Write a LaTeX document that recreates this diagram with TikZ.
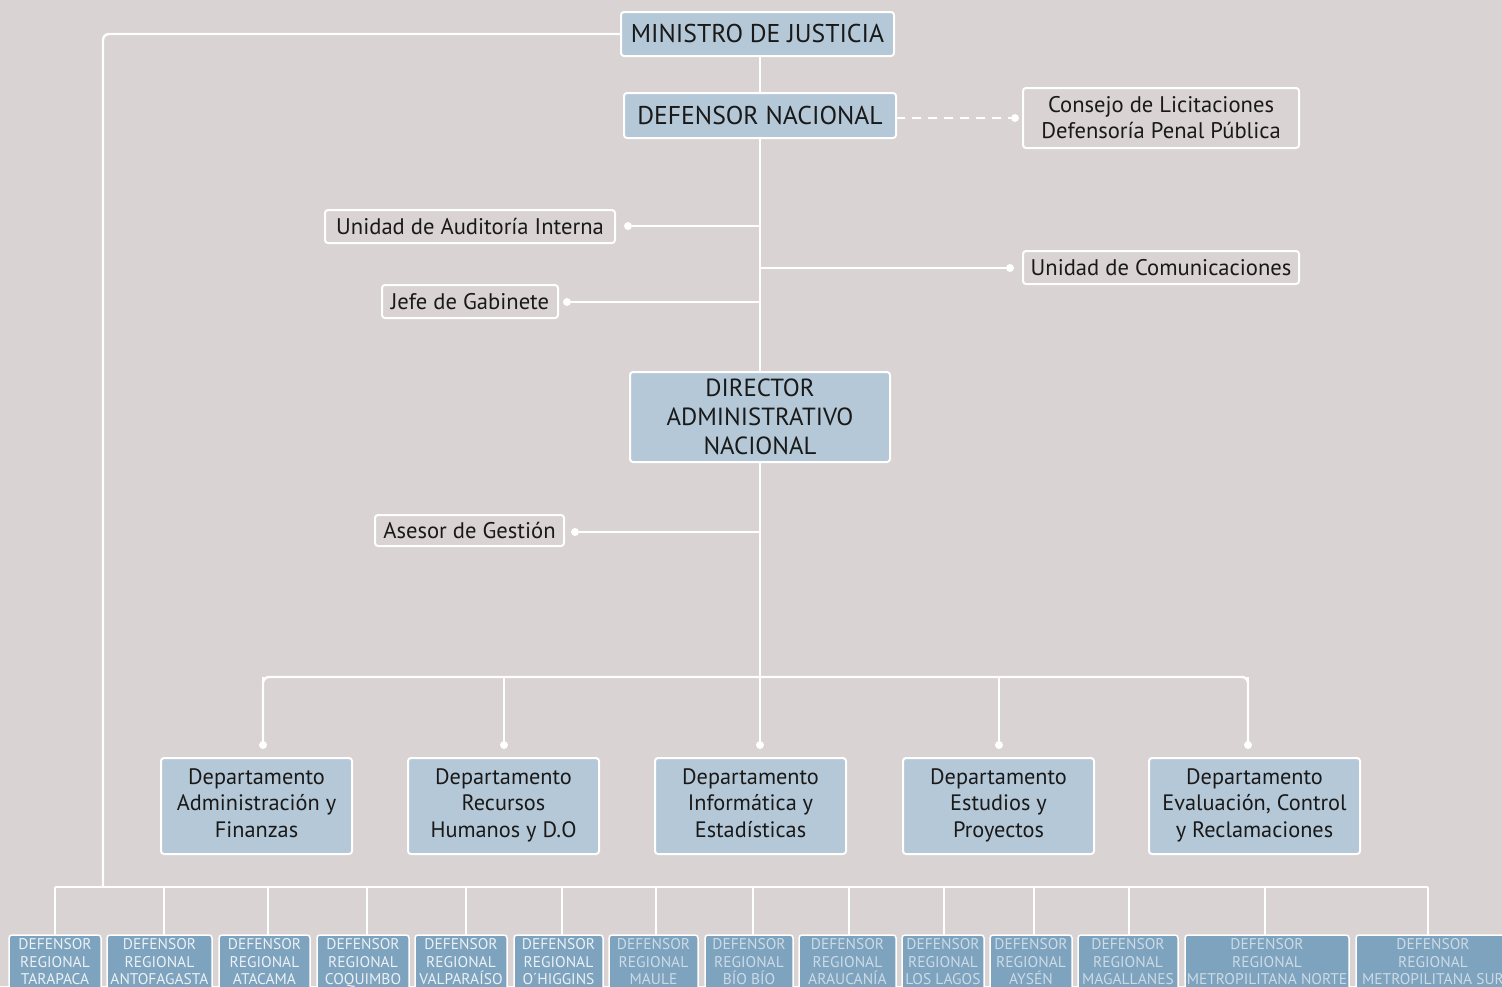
\documentclass[tikz,border=0pt]{standalone}
\usepackage{fontspec}
\setmainfont{PT Sans}
\newcommand\regstrut{\rule[-7pt]{0pt}{19pt}}
\newcommand\deptstrut{\rule[-6.4pt]{0pt}{28.4pt}}
\begin{document}
\begin{tikzpicture}[x=1pt,y=-1pt,
  every node/.style={inner sep=0pt,outer sep=0pt,align=center,text=txt},
  conn/.style={draw=white,line width=2.4pt},
  dotend/.style={fill=white,circle,minimum size=8pt},
  topbox/.style={draw=white,line width=2pt,fill=boxblue,rounded corners=3pt,font=\fontsize{25.7}{29}\selectfont},
  dirbox/.style={topbox,font=\fontsize{24.8}{29}\selectfont},
  sidebox/.style={draw=white,line width=2pt,rounded corners=3pt,font=\fontsize{22.6}{26}\selectfont},
  deptbox/.style={draw=white,line width=2pt,fill=boxblue,rounded corners=3pt,minimum width=191pt,minimum height=96pt,font=\fontsize{22.3}{26.5}\selectfont,execute at begin node=\deptstrut,execute at end node=\deptstrut},
  regbox/.style={draw=white,line width=1.5pt,fill=regblue,rounded corners=3pt,minimum height=60pt,font=\fontsize{15.5}{17.5}\selectfont,text=regtxt,execute at begin node=\regstrut,execute at end node=\regstrut},
  regboxb/.style={regbox,text=regtxtb}
]
\definecolor{bg}{RGB}{217,211,211}
\definecolor{boxblue}{RGB}{181,200,215}
\definecolor{regblue}{RGB}{126,163,190}
\definecolor{regtxt}{RGB}{236,241,245}
\definecolor{regtxtb}{RGB}{205,219,230}
\definecolor{txt}{RGB}{25,25,25}
\useasboundingbox (0,0) rectangle (1502,986);
\clip (0,0) rectangle (1502,986);
\fill[bg] (0,0) rectangle (1502,986);

% top nodes
\node[topbox,minimum width=273pt,minimum height=44pt] (min) at (757.5,34) {MINISTRO DE JUSTICIA};
\node[topbox,minimum width=272pt,minimum height=45pt] (dn) at (760,115.5) {DEFENSOR NACIONAL};
\node[sidebox,minimum width=276pt,minimum height=60pt] (cons) at (1161,118) {Consejo de Licitaciones\\Defensoría Penal Pública};
\node[sidebox,minimum width=290pt,minimum height=33pt] (aud) at (470,226.5) {Unidad de Auditoría Interna};
\node[sidebox,minimum width=276pt,minimum height=33pt] (com) at (1161,267.5) {Unidad de Comunicaciones};
\node[sidebox,minimum width=176pt,minimum height=33pt] (jefe) at (470,301.5) {Jefe de Gabinete};
\node[dirbox,minimum width=260pt,minimum height=90pt] (dir) at (760,417) {DIRECTOR\\ADMINISTRATIVO\\NACIONAL};
\node[sidebox,minimum width=189pt,minimum height=31pt] (ase) at (469.5,530.5) {Asesor de Gestión};

% departments
\node[deptbox] (d1) at (256.5,806) {Departamento\\Administración y\\Finanzas};
\node[deptbox] (d2) at (503.5,806) {Departamento\\Recursos\\Humanos y D.O};
\node[deptbox] (d3) at (750.5,806) {Departamento\\Informática y\\Estadísticas};
\node[deptbox] (d4) at (998.5,806) {Departamento\\Estudios y\\Proyectos};
\node[deptbox,minimum width=211pt] (d5) at (1254.5,806) {Departamento\\Evaluación, Control\\y Reclamaciones};

% regional
\node[regbox,minimum width=92pt] (r1) at (55,965) {DEFENSOR\\REGIONAL\\TARAPACA};
\node[regbox,minimum width=105pt] (r2) at (159.5,965) {DEFENSOR\\REGIONAL\\ANTOFAGASTA};
\node[regbox,minimum width=91pt] (r3) at (264.5,965) {DEFENSOR\\REGIONAL\\ATACAMA};
\node[regbox,minimum width=92pt] (r4) at (363,965) {DEFENSOR\\REGIONAL\\COQUIMBO};
\node[regbox,minimum width=92pt] (r5) at (461,965) {DEFENSOR\\REGIONAL\\VALPARAÍSO};
\node[regbox,minimum width=89pt] (r6) at (558.5,965) {DEFENSOR\\REGIONAL\\O´HIGGINS};
\node[regboxb,minimum width=89pt] (r7) at (653.5,965) {DEFENSOR\\REGIONAL\\MAULE};
\node[regboxb,minimum width=88pt] (r8) at (749,965) {DEFENSOR\\REGIONAL\\BÍO BÍO};
\node[regboxb,minimum width=97pt] (r9) at (847.5,965) {DEFENSOR\\REGIONAL\\ARAUCANÍA};
\node[regboxb,minimum width=82pt] (r10) at (943,965) {DEFENSOR\\REGIONAL\\LOS LAGOS};
\node[regboxb,minimum width=82pt] (r11) at (1031,965) {DEFENSOR\\REGIONAL\\AYSÉN};
\node[regboxb,minimum width=100pt] (r12) at (1128,965) {DEFENSOR\\REGIONAL\\MAGALLANES};
\node[regboxb,minimum width=164pt] (r13) at (1267,965) {DEFENSOR\\REGIONAL\\METROPILITANA NORTE};
\node[regboxb,minimum width=154pt] (r14) at (1433,965) {DEFENSOR\\REGIONAL\\METROPILITANA SUR};

% coordinates
\coordinate (cAud) at (760,226);
\coordinate (cCom) at (760,268);
\coordinate (cJefe) at (760,302);
\coordinate (cAse) at (760,532);
\coordinate (bus) at (760,677);
\coordinate (lc) at (103,34);
\coordinate (lb) at (103,887);

% connectors
\draw[conn] (dn.north |- min.south) -- (dn.north);
\draw[conn] (dn.south) -- (dir.north);
\draw[conn] (dir.south) -- (bus);
\node[dotend] (dotc) at (1015,118) {};
\draw[white,line width=2.4pt,dash pattern=on 9pt off 7pt] (dn.east |- dotc) -- (dotc);
\node[dotend] (dota) at (628,226) {};
\draw[conn] (cAud) -- (dota);
\node[dotend] (dotm) at (1010,268) {};
\draw[conn] (cCom) -- (dotm);
\node[dotend] (dotj) at (567,302) {};
\draw[conn] (cJefe) -- (dotj);
\node[dotend] (dots) at (575,532) {};
\draw[conn] (cAse) -- (dots);

% department bus
\draw[conn,rounded corners=6pt] (263,745) -- (263,677) -- (1248,677) -- (1248,745);
\foreach \x/\n in {263/1,504/2,760/3,999/4,1248/5}{
  \coordinate (db\n) at (\x,677);
  \node[dotend] (dd\n) at (\x,745) {};
  \draw[conn] (db\n) -- (dd\n);
}

% left line to regional bus
\draw[conn,rounded corners=6pt] (min.west) -- (lc) -- (lb);
\draw[conn] (55,887) -- (1428,887);
\foreach \x/\n in {55/1,164/2,268/3,367/4,466/5,562/6,656/7,753/8,849/9,944/10,1034/11,1129/12,1265/13,1428/14}{
  \coordinate (rb\n) at (\x,887);
  \draw[conn] (rb\n) -- (rb\n |- r\n.north);
}
\end{tikzpicture}
\end{document}
